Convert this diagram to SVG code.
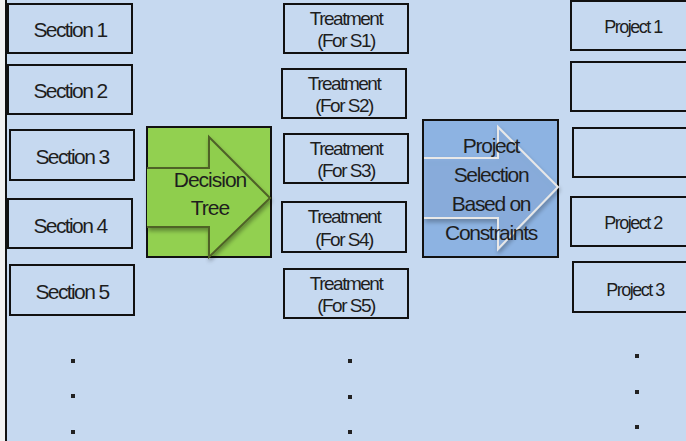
<svg xmlns="http://www.w3.org/2000/svg" width="686" height="441" viewBox="0 0 686 441">
<style>
.box{fill:none;stroke:#111;stroke-width:2}
.t{font-family:"Liberation Sans",Arial,sans-serif;fill:#1e1e1e;text-anchor:middle}
.s{font-size:21px;letter-spacing:-1.6px}
.m{font-size:19px;letter-spacing:-1.5px}
.b{font-size:21px;letter-spacing:-1.3px}
.p{font-size:18px;letter-spacing:-1.5px}
.dot{fill:#222}
</style>
<defs>
<filter id="sh" x="-20%" y="-20%" width="140%" height="140%">
<feGaussianBlur in="SourceAlpha" stdDeviation="2"/>
<feOffset dx="1" dy="3" result="b"/>
<feComponentTransfer><feFuncA type="linear" slope="0.35"/></feComponentTransfer>
<feMerge><feMergeNode/><feMergeNode in="SourceGraphic"/></feMerge>
</filter>
</defs>
<rect x="0" y="0" width="686" height="441" fill="#c6d9f0"/>
<rect x="0" y="0" width="5" height="441" fill="#f2f2f2"/>
<line x1="6" y1="0" x2="6" y2="441" stroke="#111" stroke-width="2"/>

<g id="section1"><rect class="box" x="8" y="4" width="124" height="49"/><text class="t s" x="70" y="37">Section 1</text></g>
<g id="section2"><rect class="box" x="8" y="65" width="124" height="49"/><text class="t s" x="70" y="98">Section 2</text></g>
<g id="section3"><rect class="box" x="10" y="130" width="124" height="50"/><text class="t s" x="72" y="164">Section 3</text></g>
<g id="section4"><rect class="box" x="8" y="199" width="124" height="49"/><text class="t s" x="70" y="233">Section 4</text></g>
<g id="section5"><rect class="box" x="10" y="265" width="124" height="50"/><text class="t s" x="72" y="299">Section 5</text></g>

<g id="decision-tree">
<rect x="147" y="127" width="124" height="130" fill="#92d050" stroke="#111" stroke-width="2"/>
<path d="M147 168 H209 V137 L270 198 L209 257 V227 H147" fill="#8fce4e" stroke="#4f6228" stroke-width="2" filter="url(#sh)"/>
<text class="t b" x="210" y="187" style="letter-spacing:-1px">Decision</text>
<text class="t b" x="210" y="215" style="letter-spacing:-1px">Tree</text>
</g>

<g id="treatment1"><rect class="box" x="284" y="4" width="124" height="49"/><text class="t m" x="346" y="25">Treatment</text><text class="t m" x="346" y="47">(For S1)</text></g>
<g id="treatment2"><rect class="box" x="282" y="69" width="124" height="49"/><text class="t m" x="344" y="90">Treatment</text><text class="t m" x="344" y="112">(For S2)</text></g>
<g id="treatment3"><rect class="box" x="284" y="134" width="124" height="49"/><text class="t m" x="346" y="155">Treatment</text><text class="t m" x="346" y="177">(For S3)</text></g>
<g id="treatment4"><rect class="box" x="282" y="202" width="124" height="50"/><text class="t m" x="344" y="223">Treatment</text><text class="t m" x="344" y="246">(For S4)</text></g>
<g id="treatment5"><rect class="box" x="284" y="269" width="124" height="49"/><text class="t m" x="346" y="290">Treatment</text><text class="t m" x="346" y="312">(For S5)</text></g>

<g id="project-selection">
<rect x="423" y="120" width="135" height="137" fill="#8db3e2" stroke="#111" stroke-width="2"/>
<path d="M424 158 H498 V127 L558 187 L498 249 V218 H424" fill="#8db3e2" fill-opacity="0.6" stroke="#e8e8e8" stroke-width="2" filter="url(#sh)"/>
<text class="t b" x="491" y="153">Project</text>
<text class="t b" x="491" y="182">Selection</text>
<text class="t b" x="491" y="211">Based on</text>
<text class="t b" x="491" y="240">Constraints</text>
</g>

<g id="project1"><rect class="box" x="571" y="1" width="124" height="49"/><text class="t p" x="633" y="33">Project 1</text></g>
<g id="project-blank1"><rect class="box" x="571" y="62" width="124" height="49"/></g>
<g id="project-blank2"><rect class="box" x="573" y="128" width="124" height="49"/></g>
<g id="project2"><rect class="box" x="571" y="197" width="124" height="49"/><text class="t p" x="633" y="229">Project 2</text></g>
<g id="project3"><rect class="box" x="573" y="262" width="124" height="50"/><text class="t p" x="635" y="296">Project 3</text></g>

<g id="dots">
<rect class="dot" x="71" y="359" width="4" height="4"/>
<rect class="dot" x="71" y="394" width="4" height="4"/>
<rect class="dot" x="71" y="430" width="4" height="4"/>
<rect class="dot" x="348" y="359" width="4" height="4"/>
<rect class="dot" x="348" y="395" width="4" height="4"/>
<rect class="dot" x="348" y="430" width="4" height="4"/>
<rect class="dot" x="635" y="354" width="4" height="4"/>
<rect class="dot" x="635" y="390" width="4" height="4"/>
<rect class="dot" x="635" y="425" width="4" height="4"/>
</g>
<g id="connectors"/>
</svg>
